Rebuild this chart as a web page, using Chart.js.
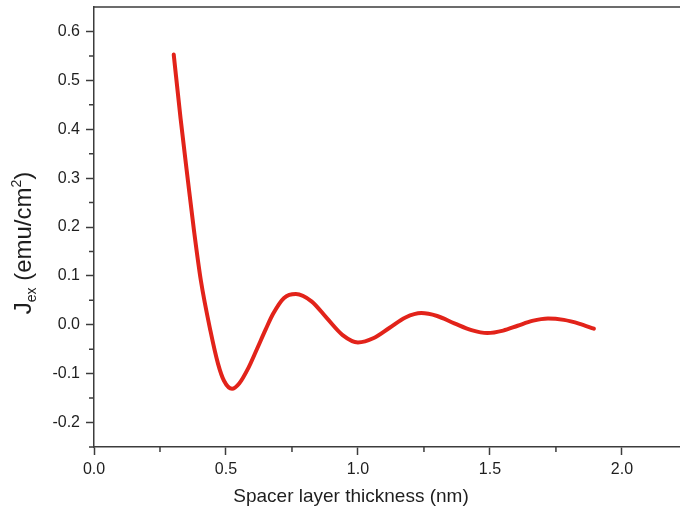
<!DOCTYPE html>
<html>
<head>
<meta charset="utf-8">
<script src="https://cdn.jsdelivr.net/npm/chart.js@4/dist/chart.umd.min.js"></script>
<style>
  html, body { margin: 0; padding: 0; background: #fff; }
  #wrap { width: 680px; height: 507px; }
</style>
</head>
<body>
<div id="wrap"><canvas id="chart" width="680" height="507"></canvas></div>
<script>
// exchange coupling vs spacer thickness
const thickness = [0.302, 0.328, 0.356, 0.379, 0.405, 0.441, 0.47, 0.492, 0.523, 0.55, 0.585, 0.617,
  0.65, 0.678, 0.72, 0.765, 0.824, 0.883, 0.942, 1.0, 1.06, 1.12, 1.18, 1.24, 1.30, 1.365, 1.43,
  1.49, 1.55, 1.605, 1.66, 1.72, 1.78, 1.84, 1.894];
const jex = [0.553, 0.422, 0.294, 0.192, 0.09, -0.012, -0.08, -0.114, -0.131, -0.12, -0.088, -0.05,
  -0.01, 0.022, 0.055, 0.063, 0.048, 0.013, -0.021, -0.036, -0.027, -0.006, 0.015, 0.024, 0.018, 0.003, -0.011,
  -0.017, -0.012, -0.002, 0.008, 0.013, 0.01, 0.002, -0.008];

const xMajor = [0, 0.5, 1.0, 1.5, 2.0];
const xMinor = [0.25, 0.75, 1.25, 1.75];
const yMajor = [-0.2, -0.1, 0.0, 0.1, 0.2, 0.3, 0.4, 0.5, 0.6];
const yMinor = [-0.25, -0.15, -0.05, 0.05, 0.15, 0.25, 0.35, 0.45, 0.55];

const xTitle = 'Spacer layer thickness (nm)';
const FONT = '"Liberation Sans", Arial, sans-serif';
const AXIS_COLOR = '#3c3c3c';

// frame, minor ticks and axis titles
const decor = {
  id: 'decor',
  afterDraw(chart) {
    const ctx = chart.ctx;
    const area = chart.chartArea;
    const xs = chart.scales.x, ys = chart.scales.y;
    ctx.save();
    ctx.strokeStyle = AXIS_COLOR;
    ctx.lineWidth = 1.5;
    ctx.beginPath();
    ctx.moveTo(area.left, area.top);
    ctx.lineTo(area.right, area.top);
    xMinor.forEach(v => {
      const px = xs.getPixelForValue(v);
      ctx.moveTo(px, area.bottom);
      ctx.lineTo(px, area.bottom + 5);
    });
    yMinor.forEach(v => {
      const py = ys.getPixelForValue(v);
      ctx.moveTo(area.left, py);
      ctx.lineTo(area.left - 5, py);
    });
    ctx.stroke();

    ctx.fillStyle = '#1e1e1e';
    ctx.font = '19px ' + FONT;
    ctx.textAlign = 'center';
    ctx.textBaseline = 'alphabetic';
    ctx.fillText(xTitle, 351, 502);

    // J_ex (emu/cm^2), rotated
    const parts = [
      { t: 'J', size: 24, dy: 0 },
      { t: 'ex', size: 14, dy: 5 },
      { t: ' (emu/cm', size: 24, dy: 0 },
      { t: '2', size: 14, dy: -10 },
      { t: ')', size: 24, dy: 0 }
    ];
    let total = 0;
    parts.forEach(p => {
      ctx.font = p.size + 'px ' + FONT;
      p.w = ctx.measureText(p.t).width;
      total += p.w;
    });
    ctx.translate(31, 243);
    ctx.rotate(-Math.PI / 2);
    ctx.textAlign = 'left';
    let x = -total / 2;
    parts.forEach(p => {
      ctx.font = p.size + 'px ' + FONT;
      ctx.fillText(p.t, x, p.dy);
      x += p.w;
    });
    ctx.restore();
  }
};

new Chart(document.getElementById('chart'), {
  type: 'scatter',
  data: {
    datasets: [{
      data: thickness.map((t, i) => ({ x: t, y: jex[i] })),
      showLine: true,
      borderColor: '#e2231a',
      borderWidth: 4,
      pointRadius: 0,
      cubicInterpolationMode: 'monotone',
      borderCapStyle: 'round'
    }]
  },
  options: {
    responsive: false,
    animation: false,
    layout: { padding: { top: 7, right: 0, left: 0, bottom: 0 } },
    plugins: { legend: { display: false }, tooltip: { enabled: false } },
    scales: {
      x: {
        type: 'linear',
        min: 0,
        max: 2.22,
        afterBuildTicks: s => { s.ticks = xMajor.map(v => ({ value: v })); },
        afterFit: s => { s.height = 60; s.paddingLeft = 0; s.paddingRight = 0; },
        grid: { drawOnChartArea: false, drawTicks: true, tickLength: 8, tickColor: AXIS_COLOR, tickWidth: 1.5 },
        border: { display: true, color: AXIS_COLOR, width: 1.5 },
        ticks: {
          padding: 5,
          color: '#1e1e1e',
          font: { family: FONT, size: 16 },
          maxRotation: 0,
          callback: v => v.toFixed(1)
        }
      },
      y: {
        type: 'linear',
        min: -0.25,
        max: 0.65,
        afterBuildTicks: s => { s.ticks = yMajor.map(v => ({ value: v })); },
        afterFit: s => { s.width = 94; s.paddingTop = 0; s.paddingBottom = 0; },
        grid: { drawOnChartArea: false, drawTicks: true, tickLength: 8, tickColor: AXIS_COLOR, tickWidth: 1.5 },
        border: { display: true, color: AXIS_COLOR, width: 1.5 },
        ticks: {
          padding: 6,
          color: '#1e1e1e',
          font: { family: FONT, size: 16 },
          callback: v => v.toFixed(1)
        }
      }
    }
  },
  plugins: [decor]
});
</script>
</body>
</html>
